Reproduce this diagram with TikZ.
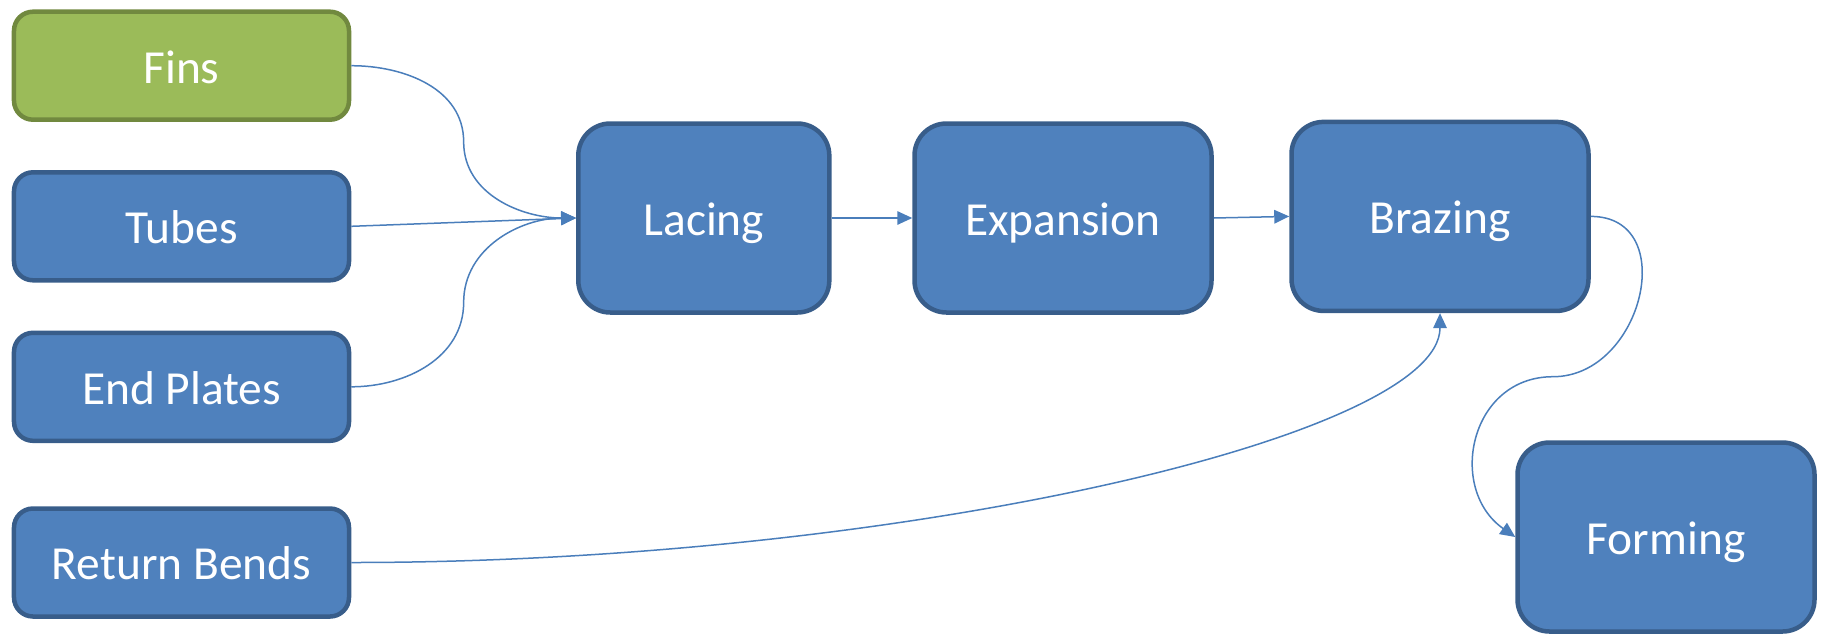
\documentclass[tikz,border=0pt]{standalone}
\usepackage{fontspec}
\setmainfont{Carlito}
\usetikzlibrary{arrows.meta,calc}
\definecolor{stepfill}{RGB}{79,129,189}
\definecolor{stepedge}{RGB}{56,93,138}
\definecolor{partfill}{RGB}{155,187,89}
\definecolor{partedge}{RGB}{113,137,63}
\definecolor{linkblue}{RGB}{74,126,187}

\begin{document}
\begin{tikzpicture}[
  x=0.2mm,y=0.2mm,
  font=\fontsize{27}{32}\selectfont,
  text=white,
  arrow/.style={-{Triangle[length=3mm,width=2.7mm]},line width=0.3mm,draw=linkblue},
  inputbox/.style={rounded corners=3.8mm,draw=stepedge,fill=stepfill,line width=0.9mm,
    minimum width=67mm,minimum height=21.6mm,inner sep=0pt,
    text height=24pt,text depth=4.2pt},
  partbox/.style={inputbox,draw=partedge,fill=partfill},
  stagebox/.style={rounded corners=6.4mm,draw=stepedge,fill=stepfill,line width=0.9mm,
    minimum width=59.4mm,minimum height=37.8mm,inner sep=0pt,
    text height=24pt,text depth=4.2pt}
]
\useasboundingbox (0,0) rectangle (1824,-634);

% -------------------------------------------------------------------------
% Incoming parts, stacked on the left.
% -------------------------------------------------------------------------
\node[partbox] (fins) at (181.5,-65.7) {Fins};
\node[inputbox] (tubes) at (181.5,-226.3) {Tubes};
\node[inputbox] (plates) at (181.5,-386.8) {End Plates};
\node[inputbox] (bends) at (181.5,-562.5) {Return Bends};

% -------------------------------------------------------------------------
% Process stages.
% -------------------------------------------------------------------------
\node[stagebox,minimum width=50.2mm] (lacing) at (703.8,-218) {Lacing};
\node[stagebox] (expansion) at (1063,-218) {Expansion};
\node[stagebox] (brazing) at (1440,-216.4) {Brazing};
\node[stagebox] (forming) at (1666,-537) {Forming};

% Parts feeding the lacing step.
\draw[arrow] (fins.east) to[out=0,in=90] ($(fins.east)!0.5!(lacing.west)$)
  to[out=-90,in=180] (lacing.west);
\draw[arrow] (tubes.east) -- (lacing.west);
\draw[arrow] (plates.east) to[out=0,in=-90] ($(plates.east)!0.5!(lacing.west)$)
  to[out=90,in=180] (lacing.west);

% Main line.
\draw[arrow] (lacing.east) -- (expansion.west);
\draw[arrow] (expansion.east) -- (brazing.west);

% Return bends join at brazing.
\draw[arrow] (bends.east) .. controls +(545,0) and +(0,-124) .. (brazing.south);

% S-bend down to forming.
\draw[arrow] (brazing.east) to[out=0,in=0,looseness=1.4] ($(brazing.east)!0.5!(forming.west)$)
  to[out=180,in=145,looseness=1.3] (forming.west);
\end{tikzpicture}
\end{document}
